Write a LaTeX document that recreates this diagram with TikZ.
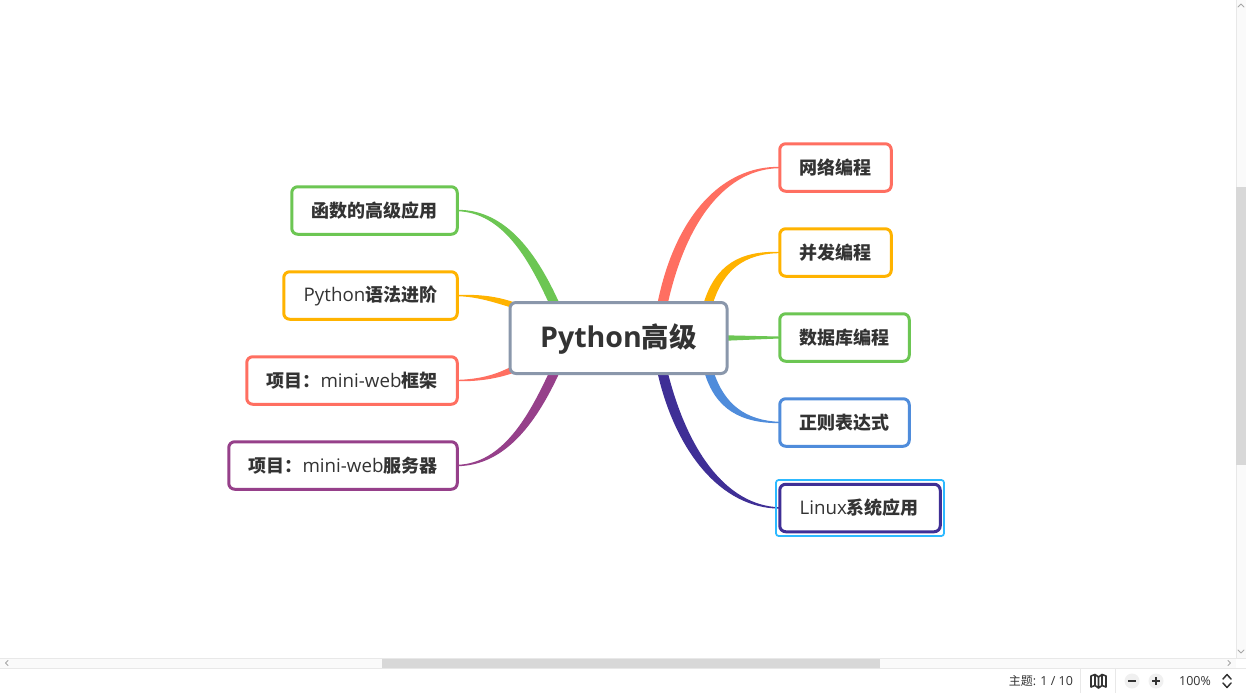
\documentclass[tikz,border=0pt]{standalone}
\usepackage{fontspec}
\setmainfont[Scale=1.04]{Open Sans}
\newfontfamily\cjk{Noto Sans CJK SC}
\newcommand{\CB}[1]{{\cjk\bfseries #1}}
\newcommand{\CR}[1]{{\cjk #1}}
\usetikzlibrary{backgrounds,calc}
\definecolor{cred}{HTML}{FF6F61}
\definecolor{corange}{HTML}{FFB300}
\definecolor{cgreen}{HTML}{6CC653}
\definecolor{cblue}{HTML}{4F8CDB}
\definecolor{cindigo}{HTML}{3F2F96}
\definecolor{cpurple}{HTML}{96408A}
\definecolor{cslate}{HTML}{8A97AB}
\definecolor{cink}{HTML}{333333}
\definecolor{csel}{HTML}{2DB9FF}
\definecolor{cbar}{HTML}{FAFAFA}
\definecolor{cthumb}{HTML}{D8D8D8}
\definecolor{cedge}{HTML}{E8E8E8}
\definecolor{cround}{HTML}{F0F0F0}
\tikzset{
  topicbox/.style={draw=#1,line width=2.25pt,rounded corners=4.5pt,fill=white,inner sep=0pt,outer sep=0pt,
    text=cink,font=\fontsize{13.5pt}{16pt}\selectfont,minimum height=47.5*0.75pt},
  rootbox/.style={draw=cslate,line width=2.25pt,rounded corners=4.5pt,fill=white,inner sep=0pt,outer sep=0pt,
    text=cink,font=\fontsize{20.6pt}{24pt}\selectfont\bfseries,text height=14pt,text depth=0pt,minimum width=217*0.75pt,minimum height=71*0.75pt},
  branch/.style={fill=#1,draw=#1,line width=1pt,line join=round},
  uitext/.style={text=cink,font=\fontsize{9pt}{11pt}\selectfont,inner sep=0pt},
  chev/.style={draw=#1,line width=0.75pt,line cap=round,line join=round},
}
\begin{document}
\begin{tikzpicture}[x=0.75pt,y=-0.75pt]
\useasboundingbox (0,0) rectangle (1246,693);

% nodes
\node[rootbox] (root) at (618.5,338) {Python\CB{高级}};
\node[topicbox=cred,minimum width=111.5*0.75pt] (net) at (835.5,167.5) {\CB{网络编程}};
\node[topicbox=corange,minimum width=111.5*0.75pt] (conc) at (835.5,252.5) {\CB{并发编程}};
\node[topicbox=cgreen,minimum width=129.5*0.75pt] (db) at (844.5,337.5) {\CB{数据库编程}};
\node[topicbox=cblue,minimum width=129.5*0.75pt] (re) at (844.5,422.5) {\CB{正则表达式}};
\node[topicbox=cindigo,minimum width=160.5*0.75pt] (linux) at (860,508) {\hspace*{-1pt}Linux\CB{系统应用}};
\node[draw=csel,line width=1.3pt,rounded corners=2pt,minimum width=168*0.75pt,minimum height=56*0.75pt,inner sep=0pt] (sel) at (860,508) {};
\node[topicbox=cgreen,minimum width=165.5*0.75pt] (func) at (374.5,210.5) {\CB{函数的高级应用}};
\node[topicbox=corange,minimum width=173.5*0.75pt] (adv) at (370.5,295.5) {Python\CB{语法进阶}};
\node[topicbox=cred,minimum width=210.5*0.75pt] (frame) at (352,380.5) {\CB{项目：}mini-web\CB{框架}};
\node[topicbox=cpurple,minimum width=228.5*0.75pt] (server) at (343,465.5) {\CB{项目：}mini-web\CB{服务器}};

% tapered branches
\begin{scope}[on background layer]
\fill[white] (0,0) rectangle (1246,693);
\draw[branch=cgreen] (func.east) .. controls (506,210) and (537,255) .. (559,304) -- (550,304) .. controls (529,258) and (503,212) .. (func.east) -- cycle;
\draw[branch=corange] (adv.east) .. controls (480,295) and (497,297) .. (514,303) -- (512,307) .. controls (495,302) and (478,296) .. (adv.east) -- cycle;
\draw[branch=cred] (frame.east) .. controls (478,380) and (495,376) .. (512,367) -- (514,372) .. controls (497,378) and (478,381) .. (frame.east) -- cycle;
\draw[branch=cpurple] (server.east) .. controls (506,465) and (537,420) .. (559,372) -- (550,372) .. controls (529,417) and (503,464) .. (server.east) -- cycle;
\draw[branch=cred] (net.west) .. controls (727,168) and (686,218) .. (667,304) -- (658,304) .. controls (676,214) and (724,166.5) .. (net.west) -- cycle;
\draw[branch=corange] (conc.west) .. controls (744,253) and (723,269) .. (712,304) -- (704,304) .. controls (716,265) and (740,251.5) .. (conc.west) -- cycle;
\draw[branch=cgreen] ($(root.east)+(0,-2)$) -- ($(db.west)+(0,-0.3)$) -- ($(db.west)+(0,0.3)$) -- ($(root.east)+(0,2)$) -- cycle;
\draw[branch=cblue] (re.west) .. controls (745,421) and (724,405) .. (713,372) -- (705,372) .. controls (716,409) and (741,422.5) .. (re.west) -- cycle;
\draw[branch=cindigo] (linux.west) .. controls (724,506) and (686,448) .. (667,372) -- (658,372) .. controls (676,451) and (721,507.5) .. (linux.west) -- cycle;
\end{scope}

% vertical scrollbar
\fill[cbar] (1236,0) rectangle (1246,658);
\draw[cedge,line width=0.75pt] (1236,0) -- (1236,658);
\fill[cthumb] (1236,187) rectangle (1246,465);
\draw[chev=gray!70] (1238,7) -- (1241,4) -- (1244,7);
\draw[chev=gray!70] (1238,650) -- (1241,653) -- (1244,650);
% horizontal scrollbar
\fill[cbar] (0,659) rectangle (1236,668);
\draw[cedge,line width=0.75pt] (0,658.5) -- (1246,658.5);
\draw[cedge,line width=0.75pt] (0,668.5) -- (1246,668.5);
\fill[cthumb] (382,659) rectangle (880,668);
\draw[chev=gray!70] (8,660.5) -- (5.5,663) -- (8,665.5);
\draw[chev=gray!70] (1228,660.5) -- (1230.5,663) -- (1228,665.5);
% status bar
\node[uitext,anchor=west] (topic) at (1008.5,681) {\CR{主题}: 1 / 10};
\draw[cedge,line width=0.75pt] (1080.5,669) -- (1080.5,693);
\draw[cedge,line width=0.75pt] (1115.5,669) -- (1115.5,693);
\draw[chev=cink,line width=1.2pt] (1091,676) -- (1095,674.5) -- (1098.5,677) -- (1102,674.5) -- (1106,676) -- (1106,687) -- (1102,685.5) -- (1098.5,688) -- (1095,685.5) -- (1091,687) -- cycle (1095,674.5) -- (1095,685.5) (1098.5,677) -- (1098.5,688) (1102,674.5) -- (1102,685.5);
\fill[cround] (1132,681) circle (7.5);
\fill[cround] (1156,681) circle (7.5);
\draw[cink,line width=1.1pt] (1128,681) -- (1136,681) (1152,681) -- (1160,681) (1156,677) -- (1156,685);
\node[uitext] (zoomtxt) at (1195,681) {100\%};
\draw[chev=cink,line width=1.1pt] (1223,679) -- (1227,674.5) -- (1231,679);
\draw[chev=cink,line width=1.1pt] (1223,683) -- (1227,687.5) -- (1231,683);
\end{tikzpicture}
\end{document}
